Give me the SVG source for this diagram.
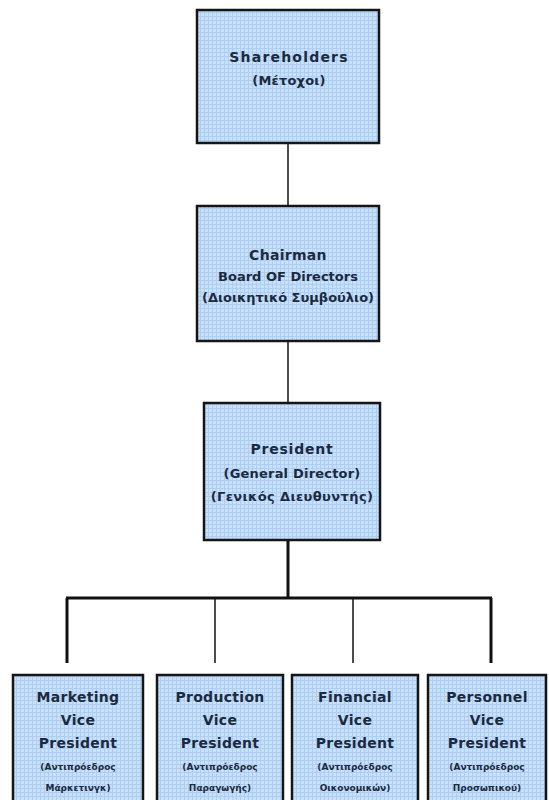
<svg xmlns="http://www.w3.org/2000/svg" width="549" height="800" viewBox="0 0 549 800">
  <defs>
    <!-- graph-paper fill used inside every box -->
    <pattern id="grid" width="4" height="4" patternUnits="userSpaceOnUse">
      <rect width="4" height="4" fill="#c8e1fb"/>
      <path d="M0 0.5H4M0.5 0V4" stroke="#aecdf0" stroke-width="1"/>
    </pattern>
    <style>
      .box { fill: url(#grid); stroke: #151515; stroke-width: 2.5; }
      .t { font-family: "DejaVu Sans", Verdana, sans-serif; font-weight: bold; fill: #1b2a3e; text-anchor: middle; }
      .top { font-size: 14px; letter-spacing: 0.3px; }
      .mid { font-size: 13px; letter-spacing: 0.2px; }
      .big { font-size: 14px; letter-spacing: 0.3px; }
      .small { font-size: 9px; }
      .thin { stroke: #111; stroke-width: 1.5; fill: none; }
      .thick { stroke: #111; stroke-width: 3; fill: none; }
    </style>
  </defs>
  <rect width="549" height="800" fill="#ffffff"/>

  <!-- connectors -->
  <g id="connectors">
    <line class="thin" x1="288" y1="143" x2="288" y2="206"/>
    <line class="thin" x1="288" y1="341" x2="288" y2="403"/>
    <line class="thick" x1="288" y1="540" x2="288" y2="598"/>
    <line class="thick" x1="66" y1="598" x2="492" y2="598"/>
    <line class="thick" x1="67" y1="598" x2="67" y2="663"/>
    <line class="thin" x1="215" y1="598" x2="215" y2="663"/>
    <line class="thin" x1="353" y1="598" x2="353" y2="663"/>
    <line class="thick" x1="491" y1="598" x2="491" y2="663"/>
  </g>

  <g id="shareholders">
    <rect class="box" x="197" y="10" width="182" height="133"/>
    <text class="t top" x="289" y="62" style="letter-spacing:1.2px">Shareholders</text>
    <text class="t mid" x="289" y="85">(Μέτοχοι)</text>
  </g>

  <g id="chairman">
    <rect class="box" x="197" y="206" width="182" height="135"/>
    <text class="t top" x="288" y="260">Chairman</text>
    <text class="t mid" x="288" y="281" style="letter-spacing:0">Board OF Directors</text>
    <text class="t mid" x="288" y="302" style="letter-spacing:0">(Διοικητικό Συμβούλιο)</text>
  </g>

  <g id="president">
    <rect class="box" x="204" y="403" width="176" height="137"/>
    <text class="t top" x="292" y="454" style="letter-spacing:0.8px">President</text>
    <text class="t mid" x="292" y="478">(General Director)</text>
    <text class="t mid" x="292" y="501" style="letter-spacing:0.4px">(Γενικός Διευθυντής)</text>
  </g>

  <g id="marketing">
    <rect class="box" x="13" y="675" width="130" height="140"/>
    <text class="t big" x="78" y="702">Marketing</text>
    <text class="t big" x="78" y="725">Vice</text>
    <text class="t big" x="78" y="748">President</text>
    <text class="t small" x="78" y="770">(Αντιπρόεδρος</text>
    <text class="t small" x="78" y="791">Μάρκετινγκ)</text>
  </g>

  <g id="production">
    <rect class="box" x="157" y="675" width="126" height="140"/>
    <text class="t big" x="220" y="702">Production</text>
    <text class="t big" x="220" y="725">Vice</text>
    <text class="t big" x="220" y="748">President</text>
    <text class="t small" x="220" y="770">(Αντιπρόεδρος</text>
    <text class="t small" x="220" y="791">Παραγωγής)</text>
  </g>

  <g id="financial">
    <rect class="box" x="292" y="675" width="126" height="140"/>
    <text class="t big" x="355" y="702">Financial</text>
    <text class="t big" x="355" y="725">Vice</text>
    <text class="t big" x="355" y="748">President</text>
    <text class="t small" x="355" y="770">(Αντιπρόεδρος</text>
    <text class="t small" x="355" y="791">Οικονομικών)</text>
  </g>

  <g id="personnel">
    <rect class="box" x="428" y="675" width="118" height="140"/>
    <text class="t big" x="487" y="702">Personnel</text>
    <text class="t big" x="487" y="725">Vice</text>
    <text class="t big" x="487" y="748">President</text>
    <text class="t small" x="487" y="770">(Αντιπρόεδρος</text>
    <text class="t small" x="487" y="791">Προσωπικού)</text>
  </g>
</svg>
